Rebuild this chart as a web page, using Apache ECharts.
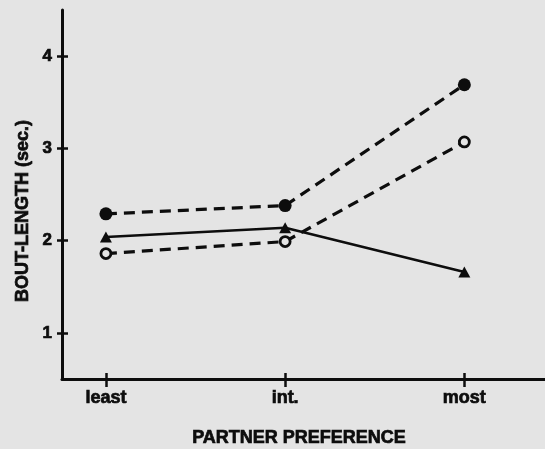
<!DOCTYPE html>
<html>
<head>
<meta charset="utf-8">
<script src="https://cdn.jsdelivr.net/npm/echarts@6/dist/echarts.min.js"></script>
<style>
  html, body { margin: 0; padding: 0; background: #e4e4e4; }
  #chart { width: 545px; height: 449px; }
</style>
</head>
<body>
<div id="chart"></div>
<script>
// Partner preference levels (x positions 0, 1, 2)
const categories = ['least', 'int.', 'most'];
// Mean bout length (sec.) for each group
const filledCircle = [2.29, 2.38, 3.69];
const openCircle = [1.86, 1.99, 3.07];
const triangle = [2.04, 2.14, 1.66];
const yTicks = [1, 2, 3, 4];
const xTicks = [0, 1, 2];

const ink = '#0d0d0d';
const paper = '#e4e4e4';
const fontFam = '"Liberation Sans", Arial, sans-serif';

const toPairs = arr => arr.map((v, i) => [i, v]);

const chart = echarts.init(document.getElementById('chart'), null, { renderer: 'canvas' });

const baseX = {
  type: 'value', min: -0.245, max: 2.45, gridIndex: 0,
  splitLine: { show: false }
};
const baseY = {
  type: 'value', min: 0.5, max: 4.5, gridIndex: 0,
  splitLine: { show: false }
};

// heavy label look: bold face plus a thin outline in the same ink
const heavy = { color: ink, fontFamily: fontFam, fontWeight: 'bold', textBorderColor: ink, textBorderWidth: 0.7 };

chart.setOption({
  backgroundColor: paper,
  animation: false,
  grid: { left: 62, right: 0, top: 10, bottom: 70, containLabel: false },
  xAxis: [
    Object.assign({}, baseX, {
      position: 'bottom',
      axisLine: { show: true, onZero: false, lineStyle: { color: ink, width: 3 } },
      axisTick: { show: true, customValues: xTicks, length: 8, lineStyle: { color: ink, width: 2.5 } },
      axisLabel: Object.assign({
        show: true, customValues: xTicks, margin: 10,
        formatter: v => categories[Math.round(v)],
        fontSize: 18
      }, heavy)
    }),
    Object.assign({}, baseX, {
      position: 'bottom',
      axisLine: { show: false, onZero: false },
      axisTick: { show: true, inside: true, customValues: xTicks, length: 6, lineStyle: { color: ink, width: 2.5 } },
      axisLabel: { show: false }
    })
  ],
  yAxis: [
    Object.assign({}, baseY, {
      position: 'left',
      axisLine: { show: true, onZero: false, lineStyle: { color: ink, width: 3 } },
      axisTick: { show: true, customValues: yTicks, length: 5, lineStyle: { color: ink, width: 2.5 } },
      axisLabel: Object.assign({
        show: true, customValues: yTicks, margin: 10,
        fontSize: 17
      }, heavy)
    }),
    Object.assign({}, baseY, {
      position: 'left',
      axisLine: { show: false, onZero: false },
      axisTick: { show: true, inside: true, customValues: yTicks, length: 6, lineStyle: { color: ink, width: 2.5 } },
      axisLabel: { show: false }
    })
  ],
  graphic: [
    {
      type: 'text',
      x: 299, y: 438,
      style: {
        text: 'PARTNER PREFERENCE', fill: ink,
        stroke: ink, lineWidth: 0.7,
        font: 'bold 18px "Liberation Sans", Arial, sans-serif',
        align: 'center', verticalAlign: 'middle'
      }
    },
    {
      type: 'text',
      x: 23, y: 211,
      rotation: Math.PI / 2,
      style: {
        text: 'BOUT-LENGTH (sec.)', fill: ink,
        stroke: ink, lineWidth: 0.7,
        font: 'bold 18px "Liberation Sans", Arial, sans-serif',
        align: 'center', verticalAlign: 'middle'
      }
    }
  ],
  series: [
    {
      type: 'line', data: toPairs(filledCircle),
      symbol: 'circle', symbolSize: 13,
      itemStyle: { color: ink, borderColor: ink, borderWidth: 0 },
      lineStyle: { color: ink, width: 3.2, type: [11, 7] },
      z: 3
    },
    {
      type: 'line', data: toPairs(openCircle),
      symbol: 'circle', symbolSize: 10,
      itemStyle: { color: paper, borderColor: ink, borderWidth: 2.8 },
      lineStyle: { color: ink, width: 3.2, type: [11, 7] },
      z: 3
    },
    {
      type: 'line', data: toPairs(triangle),
      symbol: 'triangle', symbolSize: [12, 11],
      itemStyle: { color: ink, borderWidth: 0 },
      lineStyle: { color: ink, width: 2.6, type: 'solid' },
      z: 3
    }
  ]
});
</script>
</body>
</html>
